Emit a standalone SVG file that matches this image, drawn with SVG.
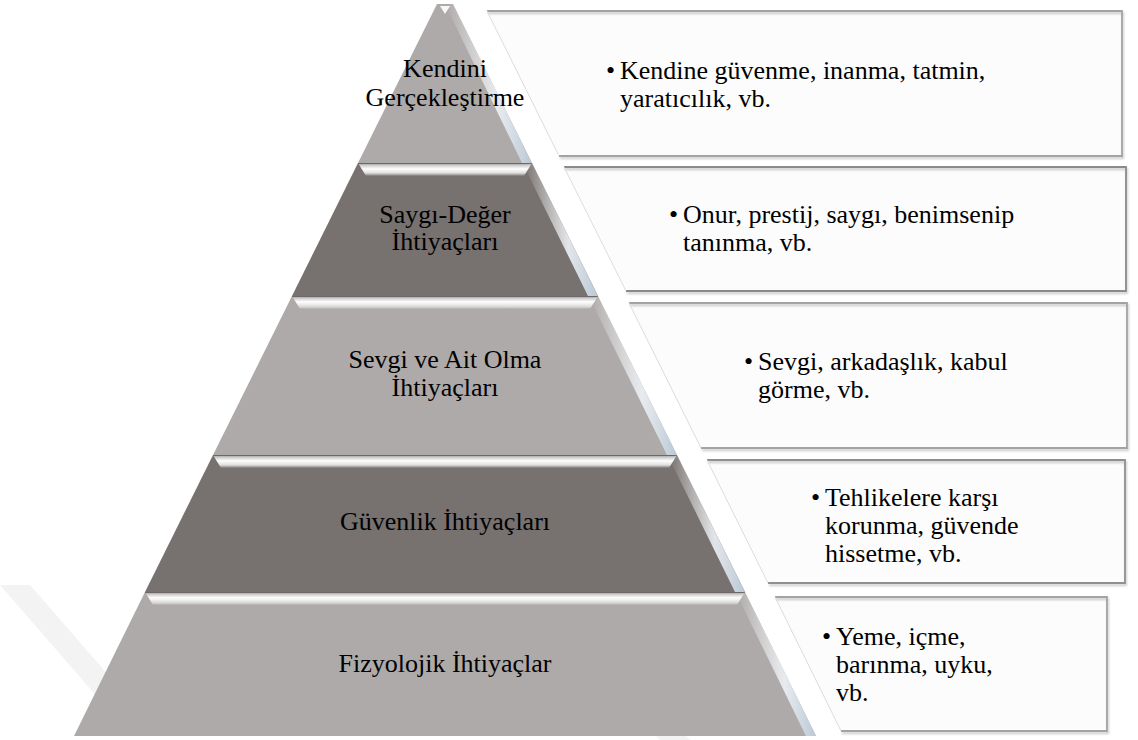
<svg xmlns="http://www.w3.org/2000/svg" width="1138" height="740" viewBox="0 0 1138 740">
<defs>
<linearGradient id="bevTop" x1="0" y1="0" x2="0" y2="1">
<stop offset="0" stop-color="#8a8585"/>
<stop offset="0.15" stop-color="#c9c6c6"/>
<stop offset="0.45" stop-color="#ffffff"/>
<stop offset="0.75" stop-color="#e2e0e0"/>
<stop offset="1" stop-color="#ffffff" stop-opacity="0"/>
</linearGradient>
<linearGradient id="bevRight" x1="0" y1="0" x2="1" y2="0">
<stop offset="0" stop-color="#ffffff" stop-opacity="0"/>
<stop offset="0.6" stop-color="#eef2f6" stop-opacity="0.9"/>
<stop offset="1" stop-color="#b9c8d6"/>
</linearGradient>
<filter id="sh" x="-5%" y="-5%" width="110%" height="115%">
<feDropShadow dx="1" dy="2" stdDeviation="1.2" flood-color="#000" flood-opacity="0.22"/>
</filter>
<style>
.light{fill:#aeaaa9}
.dark{fill:#77716f}
.bev{fill:url(#bevTop)}
.rb{fill:url(#bevRight)}
.edge{fill:none;stroke:#6d6868;stroke-width:1}
.box{fill:#fcfcfc;stroke:none}
.frame{fill:none;stroke:#a3a3a3;stroke-width:1.8;filter:url(#sh)}
.slant{fill:none;stroke:#dcdcdc;stroke-width:1}
.t{font-size:26px;fill:#000}
.c{text-anchor:middle}
.wm{fill:#f3f3f3}
</style>
</defs>
<rect width="1138" height="740" fill="#ffffff"/>
<g id="watermark">
<polygon class="wm" points="0,585 30,585 130,700 100,700"/>
<polygon class="wm" points="560,640 590,640 690,740 660,740"/>
</g>
<g font-family="'Liberation Serif', 'Times New Roman', 'DejaVu Serif', serif">
<g id="layer1">
<polygon class="light" points="437,4 453,4 532,163 358,163"/>
<polygon class="rb" points="446,6 453,4 532,163 522,163"/>
<polygon fill="#ffffff" opacity="0.9" points="440,6 450,6 445,14"/>
<text class="t c" x="445" y="77">Kendini</text>
<text class="t c" x="445" y="106">Gerçekleştirme</text>
</g>
<g id="layer2">
<polygon class="dark" points="358,163 532,163 598,296 292,296"/>
<polygon class="bev" points="358,163 532,163 524,176 366,176"/>
<line class="edge" x1="358" y1="163.5" x2="532" y2="163.5"/>
<polygon class="rb" points="524,166 532,163 598,296 588,296"/>
<text class="t c" x="445" y="223">Saygı-Değer</text>
<text class="t c" x="445" y="250">İhtiyaçları</text>
</g>
<g id="layer3">
<polygon class="light" points="292,296 598,296 677,455 213,455"/>
<polygon class="bev" points="292,296 598,296 590,309 300,309"/>
<line class="edge" x1="292" y1="296.5" x2="598" y2="296.5"/>
<polygon class="rb" points="590,299 598,296 677,455 667,455"/>
<text class="t c" x="445" y="368">Sevgi ve Ait Olma</text>
<text class="t c" x="445" y="396">İhtiyaçları</text>
</g>
<g id="layer4">
<polygon class="dark" points="213,455 677,455 745,592 145,592"/>
<polygon class="bev" points="213,455 677,455 669,468 221,468"/>
<line class="edge" x1="213" y1="455.5" x2="677" y2="455.5"/>
<polygon class="rb" points="669,458 677,455 745,592 735,592"/>
<text class="t c" x="445" y="530">Güvenlik İhtiyaçları</text>
</g>
<g id="layer5">
<polygon class="light" points="145,592 745,592 816,736 74,736"/>
<polygon class="bev" points="145,592 745,592 737,605 153,605"/>
<line class="edge" x1="145" y1="592.5" x2="745" y2="592.5"/>
<polygon class="rb" points="737,595 745,592 816,736 806,736"/>
<text class="t c" x="445" y="672">Fizyolojik İhtiyaçlar</text>
</g>
<g id="box1">
<polygon class="box" points="487,11 1122,11 1122,156 559,156"/>
<polyline class="frame" points="487,11 1122,11 1122,156 559,156"/>
<line class="slant" x1="487" y1="11" x2="559" y2="156"/>
<text class="t" x="606" y="79">•</text>
<text class="t" x="620" y="79">Kendine güvenme, inanma, tatmin,</text>
<text class="t" x="620" y="107">yaratıcılık, vb.</text>
</g>
<g id="box2">
<polygon class="box" points="564,167 1126,167 1126,291 626,291"/>
<polyline class="frame" stroke="#8a8a8a" style="stroke:#8a8a8a" points="564,167 1126,167 1126,291 626,291"/>
<line class="slant" x1="564" y1="167" x2="626" y2="291"/>
<text class="t" x="669" y="223">•</text>
<text class="t" x="683" y="223">Onur, prestij, saygı, benimsenip</text>
<text class="t" x="683" y="251">tanınma, vb.</text>
</g>
<g id="box3">
<polygon class="box" points="629,303 1127,303 1127,448 701,448"/>
<polyline class="frame" points="629,303 1127,303 1127,448 701,448"/>
<line class="slant" x1="629" y1="303" x2="701" y2="448"/>
<text class="t" x="744" y="370">•</text>
<text class="t" x="758" y="370">Sevgi, arkadaşlık, kabul</text>
<text class="t" x="758" y="398">görme, vb.</text>
</g>
<g id="box4">
<polygon class="box" points="707,460 1125,460 1125,583 768,583"/>
<polyline class="frame" style="stroke:#8f8f8f" points="707,460 1125,460 1125,583 768,583"/>
<line class="slant" x1="707" y1="460" x2="768" y2="583"/>
<text class="t" x="811" y="506">•</text>
<text class="t" x="825" y="506">Tehlikelere karşı</text>
<text class="t" x="825" y="534">korunma, güvende</text>
<text class="t" x="825" y="562">hissetme, vb.</text>
</g>
<g id="box5">
<polygon class="box" points="775,597 1107,597 1107,731 841,731"/>
<polyline class="frame" points="775,597 1107,597 1107,731 841,731"/>
<line class="slant" x1="775" y1="597" x2="841" y2="731"/>
<text class="t" x="822" y="645">•</text>
<text class="t" x="836" y="645">Yeme, içme,</text>
<text class="t" x="836" y="673">barınma, uyku,</text>
<text class="t" x="836" y="701">vb.</text>
</g>
</g>
</svg>
